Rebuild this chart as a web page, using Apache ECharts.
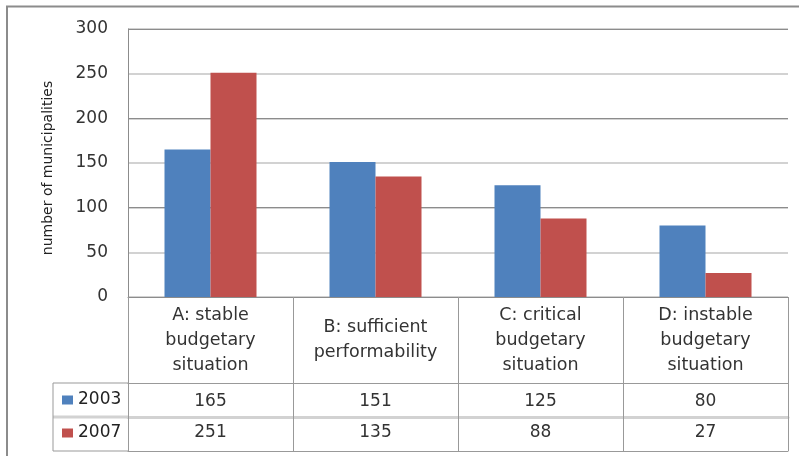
<!DOCTYPE html>
<html><head><meta charset="utf-8">
<script src="https://cdn.jsdelivr.net/npm/echarts@6/dist/echarts.min.js"></script>
<style>html,body{margin:0;padding:0;background:#fff}#c{width:799px;height:456px}</style>
</head><body><div id="c"></div>
<script>
// ---- data ----
const categories = ['A: stable\nbudgetary\nsituation', 'B: sufficient\nperformability', 'C: critical\nbudgetary\nsituation', 'D: instable\nbudgetary\nsituation'];
const seriesNames = ['2003', '2007'];
const values2003 = [165, 151, 125, 80];
const values2007 = [251, 135, 88, 27];
const yMin = 0, yMax = 300, yStep = 50;
const yAxisName = 'number of municipalities';

// ---- layout ----
const W = 799, H = 456;
const gridLeft = 128, gridRight = 788, gridTop = 29, axisY = 297;
const headerH = 86, row1H = 34, row2H = 34;
const legendColLeft = 53;
const FONT = 'DejaVu Sans';
const gray = '#999999', dark = '#8c8c8c', light = '#d2d2d2';

const chart = echarts.init(document.getElementById('c'), null, {renderer: 'canvas'});
const row1Y = axisY + headerH, row2Y = row1Y + row1H, tableBottom = row2Y + row2H;

chart.setOption({
  animation: false,
  backgroundColor: '#fff',
  grid: {left: gridLeft, right: W - gridRight, top: gridTop, bottom: H - axisY},
  legend: {
    orient: 'vertical', left: 62, top: row1Y + 7, padding: 0,
    itemWidth: 11, itemHeight: 9, itemGap: 13, icon: 'rect',
    textStyle: {fontFamily: FONT, fontSize: 17, lineHeight: 20, color: '#222'},
    data: seriesNames
  },
  xAxis: [
    {
      type: 'category', data: categories, position: 'bottom',
      axisLine: {show: true, onZero: false, lineStyle: {color: dark, width: 1}},
      axisTick: {show: true, length: tableBottom - axisY, interval: 0, lineStyle: {color: gray}},
      axisLabel: {interval: 0, margin: headerH / 2, verticalAlign: 'middle', fontFamily: FONT, fontSize: 17.5, lineHeight: 25, color: '#333'},
      splitLine: {show: false}
    },
    {
      type: 'category', data: values2003.map(String), position: 'bottom', offset: headerH,
      axisLine: {show: true, onZero: false, lineStyle: {color: gray, width: 1}},
      axisTick: {show: false},
      axisLabel: {interval: 0, margin: 19, verticalAlign: 'middle', fontFamily: FONT, fontSize: 17, color: '#333'}
    },
    {
      type: 'category', data: values2007.map(String), position: 'bottom', offset: headerH + row1H,
      axisLine: {show: true, onZero: false, lineStyle: {color: light, width: 3}},
      axisTick: {show: false},
      axisLabel: {interval: 0, margin: 16, verticalAlign: 'middle', fontFamily: FONT, fontSize: 17, color: '#333'}
    },
    {
      type: 'category', data: categories, position: 'bottom', offset: headerH + row1H + row2H,
      axisLine: {show: true, onZero: false, lineStyle: {color: gray, width: 1}},
      axisTick: {show: false}, axisLabel: {show: false}
    }
  ],
  yAxis: [
    {
      type: 'value', min: yMin, max: yMax, interval: yStep,
      name: yAxisName, nameLocation: 'middle', nameGap: 73,
      nameTextStyle: {fontFamily: FONT, fontSize: 14, color: '#222', padding: [0, 10, 0, 0]},
      axisLine: {show: true, lineStyle: {color: dark}},
      axisTick: {show: false},
      axisLabel: {margin: 20, fontFamily: FONT, fontSize: 17, color: '#333'},
      splitLine: {show: true, lineStyle: {color: light, width: 2}}
    },
    {
      type: 'value', min: yMin, max: yMax, interval: yStep * 2,
      axisLine: {show: false}, axisTick: {show: false}, axisLabel: {show: false},
      splitLine: {show: true, lineStyle: {color: dark, width: 1}}
    }
  ],
  series: [
    {name: seriesNames[0], type: 'bar', data: values2003, barWidth: 46, barGap: '0%', itemStyle: {color: '#4f81bd'}},
    {name: seriesNames[1], type: 'bar', data: values2007, barWidth: 46, barGap: '0%', itemStyle: {color: '#c0504d'}}
  ],
  graphic: [
    {type: 'rect', silent: true, shape: {x: 7, y: 6.5, width: 2000, height: 2000}, style: {fill: 'none', stroke: dark, lineWidth: 2}},
    {type: 'line', silent: true, shape: {x1: legendColLeft, y1: row1Y, x2: gridLeft, y2: row1Y}, style: {stroke: gray, lineWidth: 1}},
    {type: 'line', silent: true, shape: {x1: legendColLeft, y1: row2Y, x2: gridLeft, y2: row2Y}, style: {stroke: light, lineWidth: 3}},
    {type: 'line', silent: true, shape: {x1: legendColLeft, y1: tableBottom, x2: gridLeft, y2: tableBottom}, style: {stroke: gray, lineWidth: 1}},
    {type: 'line', silent: true, shape: {x1: legendColLeft, y1: row1Y, x2: legendColLeft, y2: tableBottom}, style: {stroke: gray, lineWidth: 1}}
  ]
});
</script></body></html>
